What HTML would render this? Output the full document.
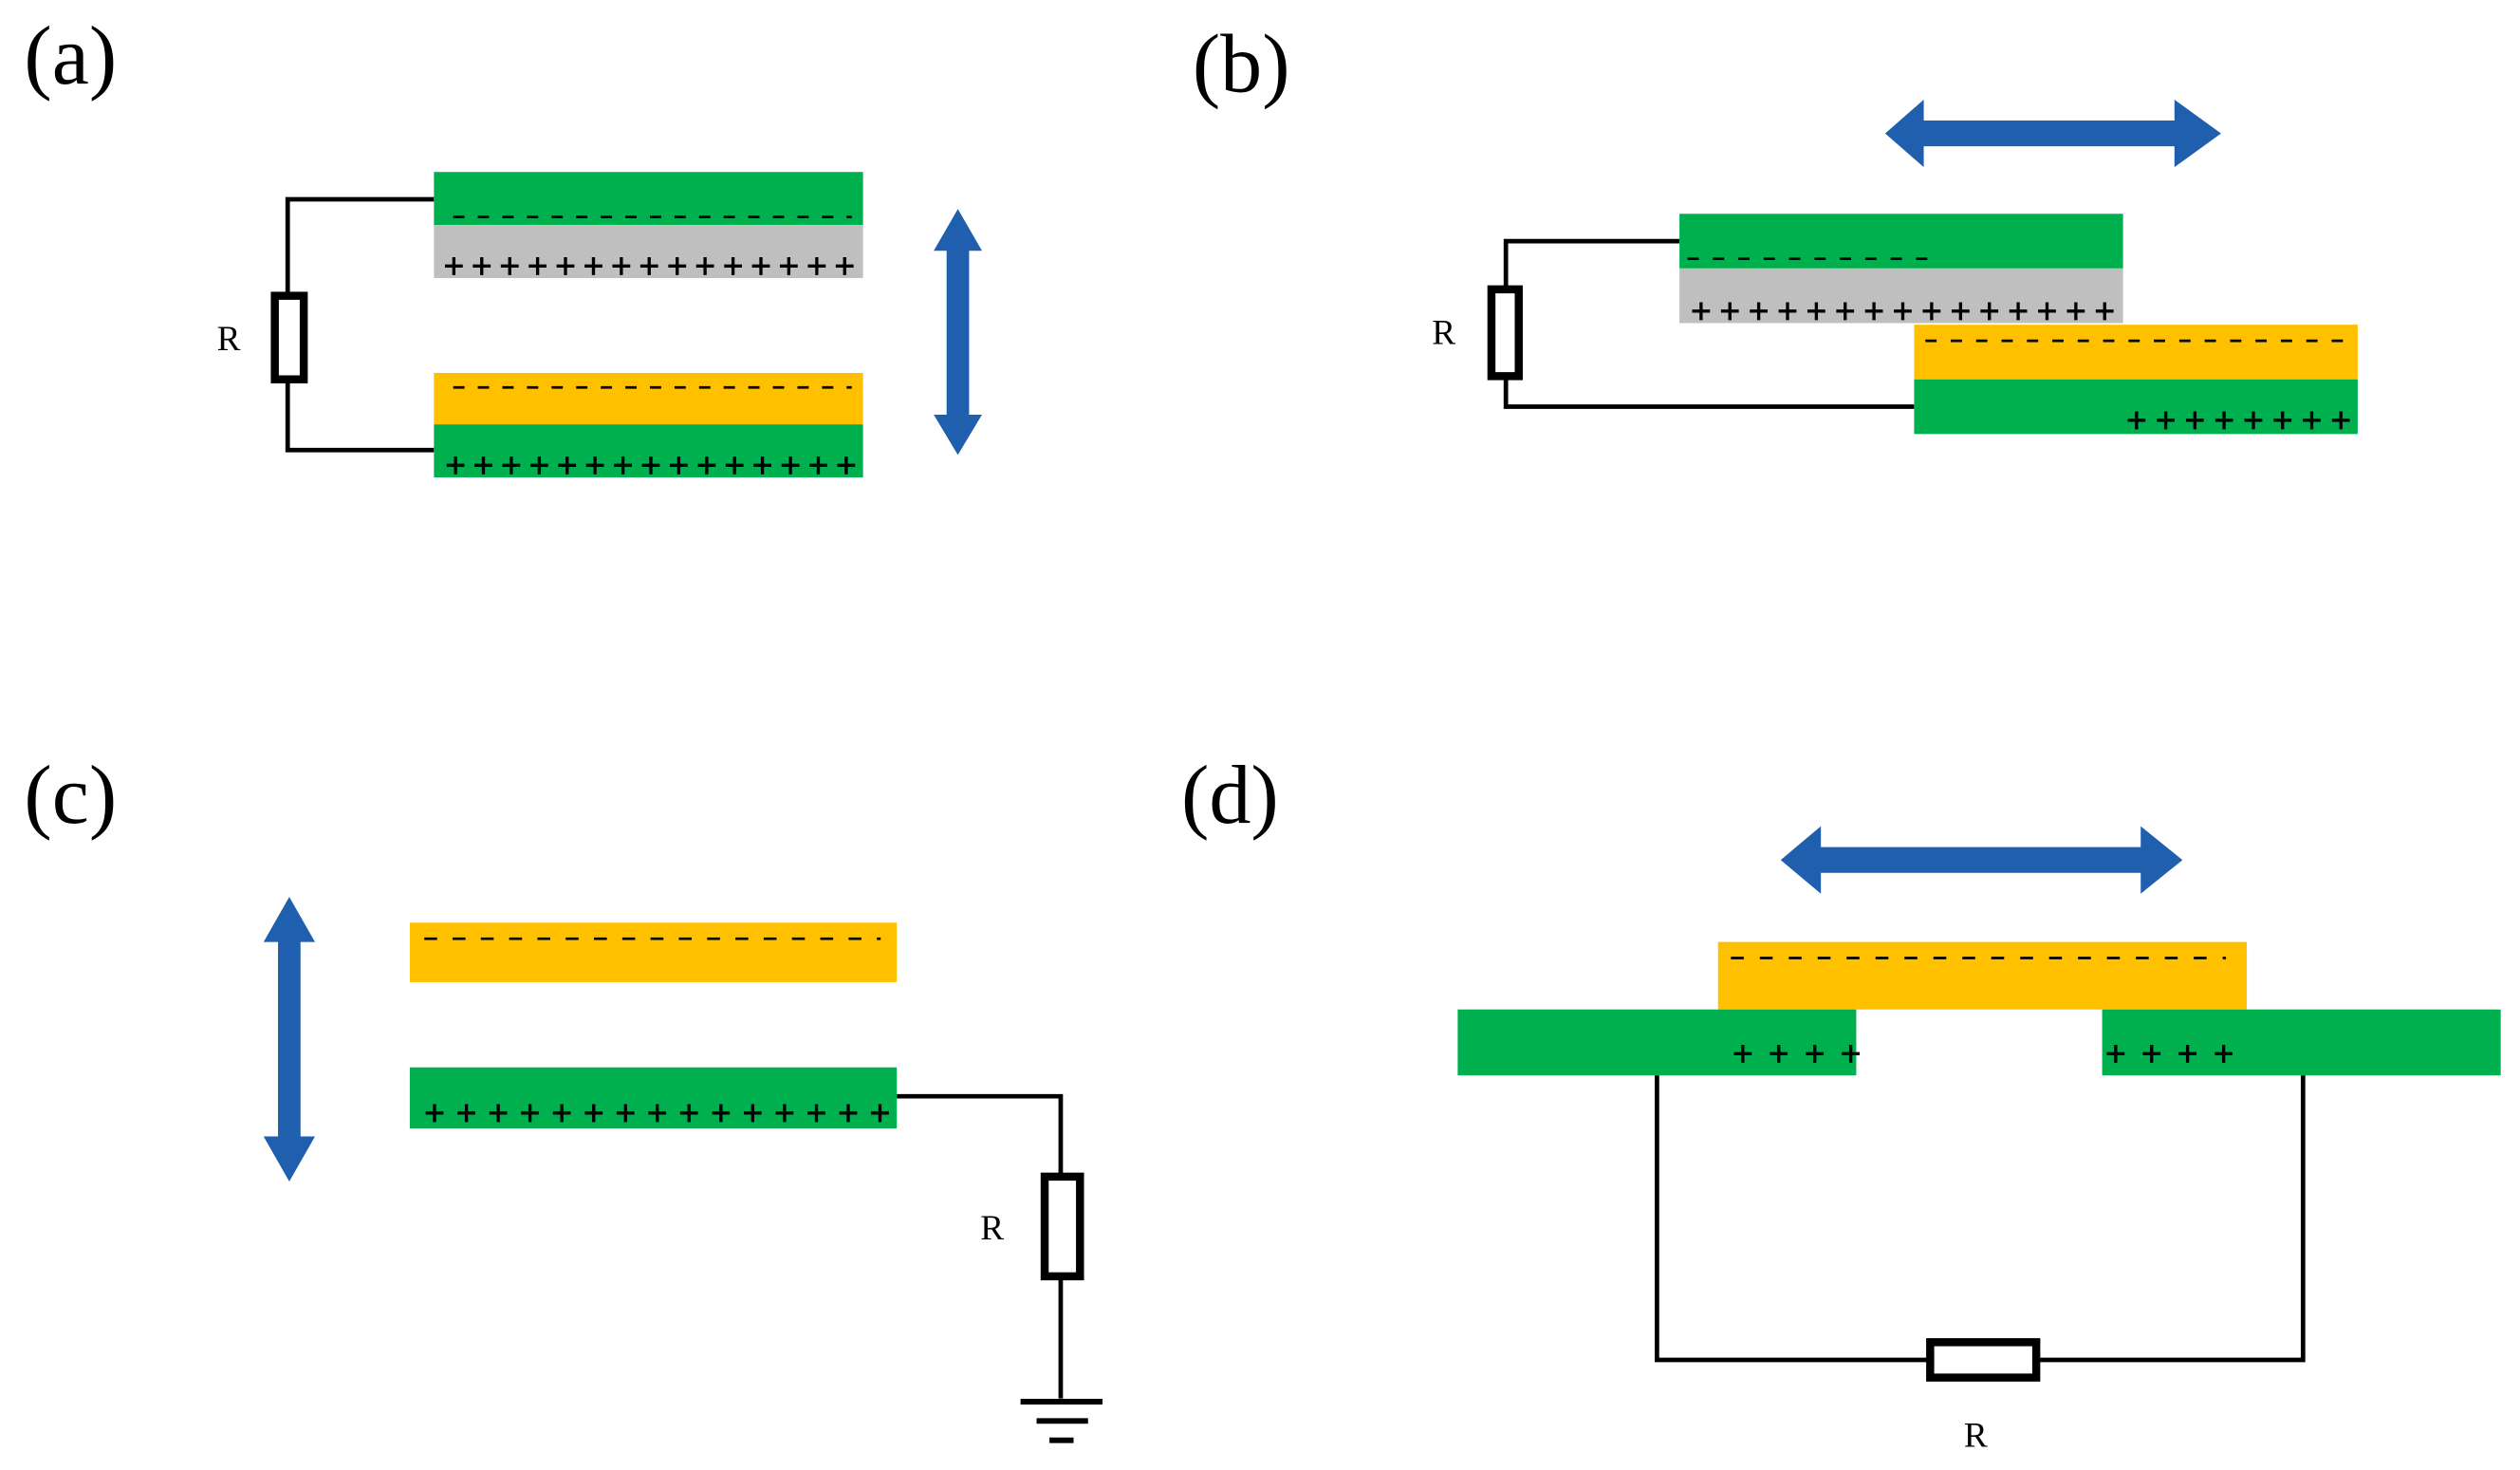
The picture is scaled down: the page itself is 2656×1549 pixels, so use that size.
<!DOCTYPE html>
<html><head><style>html,body{margin:0;padding:0;background:#fff}svg{display:block}</style></head><body>
<svg width="2656" height="1549" viewBox="0 0 1568 914.5" preserveAspectRatio="none" xmlns="http://www.w3.org/2000/svg" font-family="'Liberation Serif', serif">
<g font-size="52" fill="#000">
<text x="15" y="52">(a)</text>
<text x="742" y="57">(b)</text>
<text x="15" y="512">(c)</text>
<text x="735" y="512">(d)</text>
</g>
<g font-size="22" fill="#000">
<text x="135" y="218">R</text>
<text x="891" y="214">R</text>
<text x="610" y="771">R</text>
<text x="1222" y="900">R</text>
</g>
<g fill="#1F5FAD">
<polygon points="596,130 611,156 603,156 603,258 611,258 596,283 581,258 589,258 589,156 581,156"/>
<polygon points="1173,83 1197,62 1197,75 1353,75 1353,62 1382,83 1353,104 1353,91 1197,91 1197,104"/>
<polygon points="180,558 196,586 187,586 187,707 196,707 180,735 164,707 173,707 173,586 164,586"/>
<polygon points="1108,535 1133,514 1133,527 1332,527 1332,514 1358,535 1332,556 1332,543 1133,543 1133,556"/>
</g>
<g fill="none" stroke="#000" stroke-width="2.8">
<polyline points="270,124 179,124 179,280 270,280"/>
<polyline points="1045,150 937,150 937,253 1191,253"/>
<polyline points="558,682 660,682 660,870"/>
<polyline points="1031,669 1031,846 1433,846 1433,669"/>
</g>
<rect x="270" y="107" width="267" height="33" fill="#00B04F"/>
<rect x="270" y="140" width="267" height="33" fill="#BFBFBF"/>
<rect x="270" y="232" width="267" height="32" fill="#FFC000"/>
<rect x="270" y="264" width="267" height="33" fill="#00B04F"/>
<rect x="1045" y="133" width="276" height="34" fill="#00B04F"/>
<rect x="1045" y="167" width="276" height="34" fill="#BFBFBF"/>
<rect x="1191" y="202" width="276" height="34" fill="#FFC000"/>
<rect x="1191" y="236" width="276" height="34" fill="#00B04F"/>
<rect x="255" y="574" width="303" height="37" fill="#FFC000"/>
<rect x="255" y="664" width="303" height="38" fill="#00B04F"/>
<rect x="1069" y="586" width="329" height="42" fill="#FFC000"/>
<rect x="907" y="628" width="248" height="41" fill="#00B04F"/>
<rect x="1308" y="628" width="248" height="41" fill="#00B04F"/>
<g fill="#fff" stroke="#000" stroke-width="5">
<rect x="171" y="184" width="18" height="52"/>
<rect x="928" y="180" width="17" height="54"/>
<rect x="650" y="732" width="22" height="62"/>
<rect x="1201" y="835" width="66" height="22"/>
</g>
<g stroke="#000" stroke-width="3.5">
<line x1="635" y1="872" x2="686" y2="872"/>
<line x1="645" y1="884" x2="677" y2="884"/>
<line x1="653" y1="896" x2="668" y2="896"/>
</g>
<g stroke="#000" stroke-width="1.6">
<line x1="282" y1="135" x2="530" y2="135" stroke-dasharray="7 8.3"/>
<line x1="282" y1="241" x2="530" y2="241" stroke-dasharray="7 8.3"/>
<line x1="1050" y1="161" x2="1200" y2="161" stroke-dasharray="7 8.8"/>
<line x1="1198" y1="212" x2="1460" y2="212" stroke-dasharray="7 8.8"/>
<line x1="264" y1="584" x2="548" y2="584" stroke-dasharray="8 9.6"/>
<line x1="1077" y1="596" x2="1385" y2="596" stroke-dasharray="8 10"/>
</g>
<g font-size="22" fill="#000" stroke="#000" stroke-width="0.4" font-family="'Liberation Sans', sans-serif">
<text x="276" y="173" textLength="256" lengthAdjust="spacing">+++++++++++++++</text>
<text x="277" y="297" textLength="256" lengthAdjust="spacing">+++++++++++++++</text>
<text x="1052" y="201" textLength="264" lengthAdjust="spacing">+++++++++++++++</text>
<text x="1323" y="269" textLength="140" lengthAdjust="spacing">++++++++</text>
<text x="264" y="700" textLength="290" lengthAdjust="spacing">+++++++++++++++</text>
<text x="1078" y="663" textLength="80" lengthAdjust="spacing">++++</text>
<text x="1310" y="663" textLength="80" lengthAdjust="spacing">++++</text>
</g>
</svg>
</body></html>
